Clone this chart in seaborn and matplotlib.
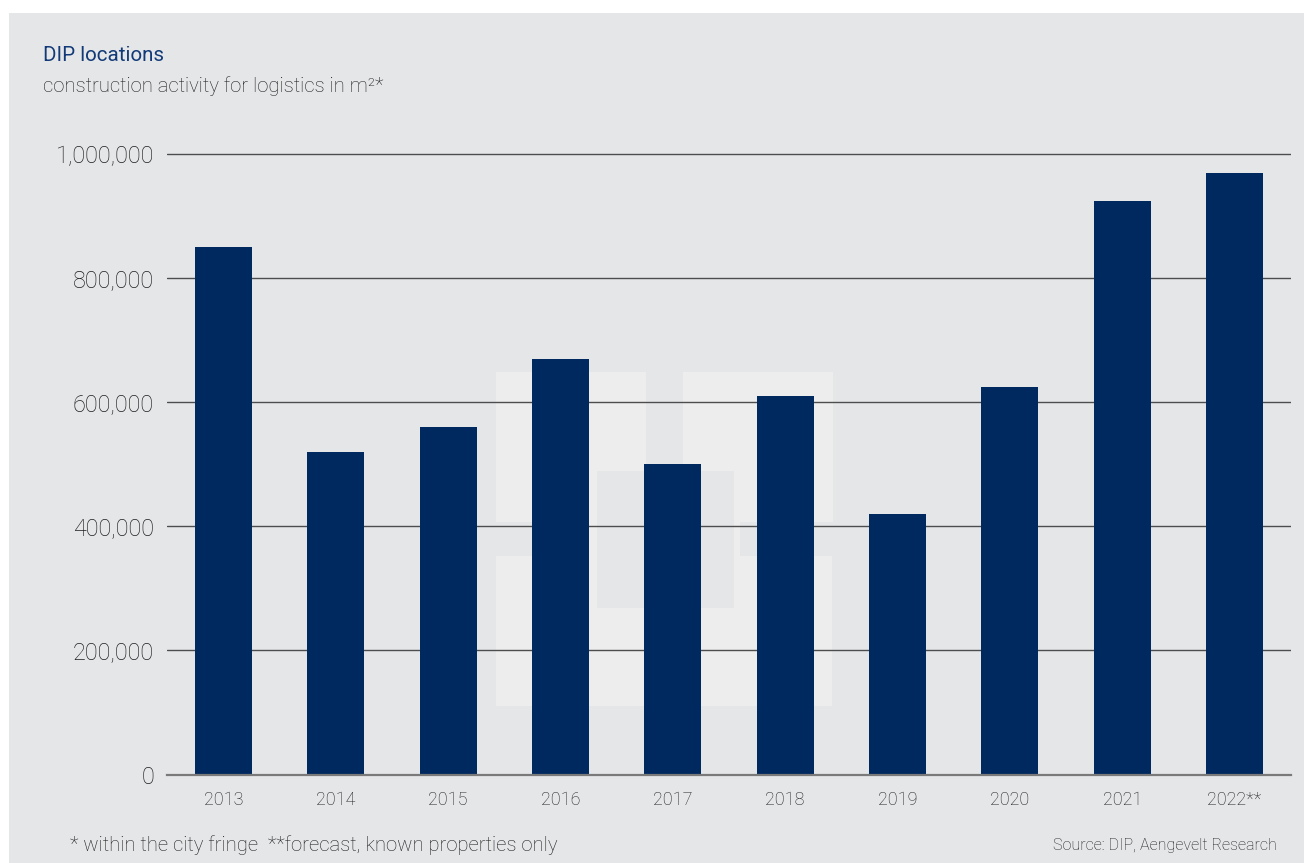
import matplotlib
matplotlib.use("Agg")
import matplotlib.pyplot as plt
from matplotlib.patches import Rectangle
from matplotlib.ticker import FuncFormatter
import seaborn as sns
import pandas as pd

# Data
years = ["2013", "2014", "2015", "2016", "2017", "2018", "2019", "2020", "2021", "2022**"]
area_m2 = [850000, 520000, 560000, 670000, 500000, 610000, 420000, 625000, 925000, 970000]
y_ticks = [0, 200000, 400000, 600000, 800000, 1000000]

title = "DIP locations"
subtitle = "construction activity for logistics in m²*"
footnote = "* within the city fringe  **forecast, known properties only"
source = "Source: DIP, Aengevelt Research"

BG = "#e5e6e8"
LIGHT = "#ededee"
BAR = "#002a5f"
TEXT = "#1e1e1e"
NAVY = "#123a78"

sns.set_theme(style="white")
plt.rcParams["font.family"] = ["Roboto", "DejaVu Sans"]

W, H = 1304, 863
fig = plt.figure(figsize=(W / 100, H / 100), dpi=100)
fig.patch.set_facecolor("white")


def px_rect(x0, y0, x1, y1, color, z):
    """Rectangle given in pixel coordinates measured from the top-left."""
    r = Rectangle((x0 / W, 1 - y1 / H), (x1 - x0) / W, (y1 - y0) / H,
                  transform=fig.transFigure, facecolor=color, edgecolor="none",
                  zorder=z)
    fig.add_artist(r)


# Panel background
px_rect(9, 13, W + 5, H + 5, BG, -3)
# Faint logo watermark behind the bars
px_rect(496, 372, 646, 522, LIGHT, -2)
px_rect(683, 372, 833, 522, LIGHT, -2)
px_rect(589, 522, 740, 556, LIGHT, -2)
px_rect(496, 556, 832, 706, LIGHT, -2)
px_rect(597, 471, 734, 608, BG, -1)

# Axes placement (pixels)
ymax = 1.02e6
x_left, x_right = 167.3, 1290.7
y_zero, y_top_grid = 774.5, 154.0
px_per_unit = (y_zero - y_top_grid) / 1.0e6
y_axes_top = y_zero - ymax * px_per_unit
ax = fig.add_axes([x_left / W, 1 - y_zero / H, (x_right - x_left) / W,
                   (y_zero - y_axes_top) / H])
ax.set_facecolor("none")

df = pd.DataFrame({"year": years, "area": area_m2})
sns.barplot(data=df, x="year", y="area", color=BAR, saturation=1,
            width=0.505, ax=ax, zorder=3, edgecolor="none", linewidth=0)

ax.set_xlim(-0.5, len(years) - 0.5)
ax.set_ylim(0, ymax)
ax.set_yticks(y_ticks)
ax.yaxis.set_major_formatter(FuncFormatter(lambda v, _: f"{int(v):,}"))
ax.set_xlabel("")
ax.set_ylabel("")

for s in ["top", "right", "left"]:
    ax.spines[s].set_visible(False)
ax.spines["bottom"].set_color("#7a7a7a")
ax.spines["bottom"].set_linewidth(1.6)
ax.spines["bottom"].set_zorder(4)

ax.yaxis.grid(True, color="#4d4d4d", linewidth=1.0)
ax.set_axisbelow(True)
ax.tick_params(axis="y", length=0, pad=9.5, labelsize=16.8, labelcolor=TEXT)
ax.tick_params(axis="x", length=0, pad=12, labelsize=13, labelcolor=TEXT)
for lbl in ax.get_yticklabels() + ax.get_xticklabels():
    lbl.set_fontweight("light")

fig.text(43 / W, 1 - 61 / H, title, color=NAVY, fontsize=14.8, ha="left",
         va="baseline")
fig.text(43 / W, 1 - 92 / H, subtitle, color=TEXT, fontsize=14.6, ha="left",
         va="baseline", fontweight="light")
fig.text(70 / W, 1 - 845 / H, footnote, color=TEXT, fontsize=14.6, ha="left",
         va="center", fontweight="light")
fig.text(1277 / W, 1 - 845 / H, source, color=TEXT, fontsize=11.6, ha="right",
         va="center", fontweight="light")

fig.savefig("out.png", dpi=100, facecolor=fig.get_facecolor())
